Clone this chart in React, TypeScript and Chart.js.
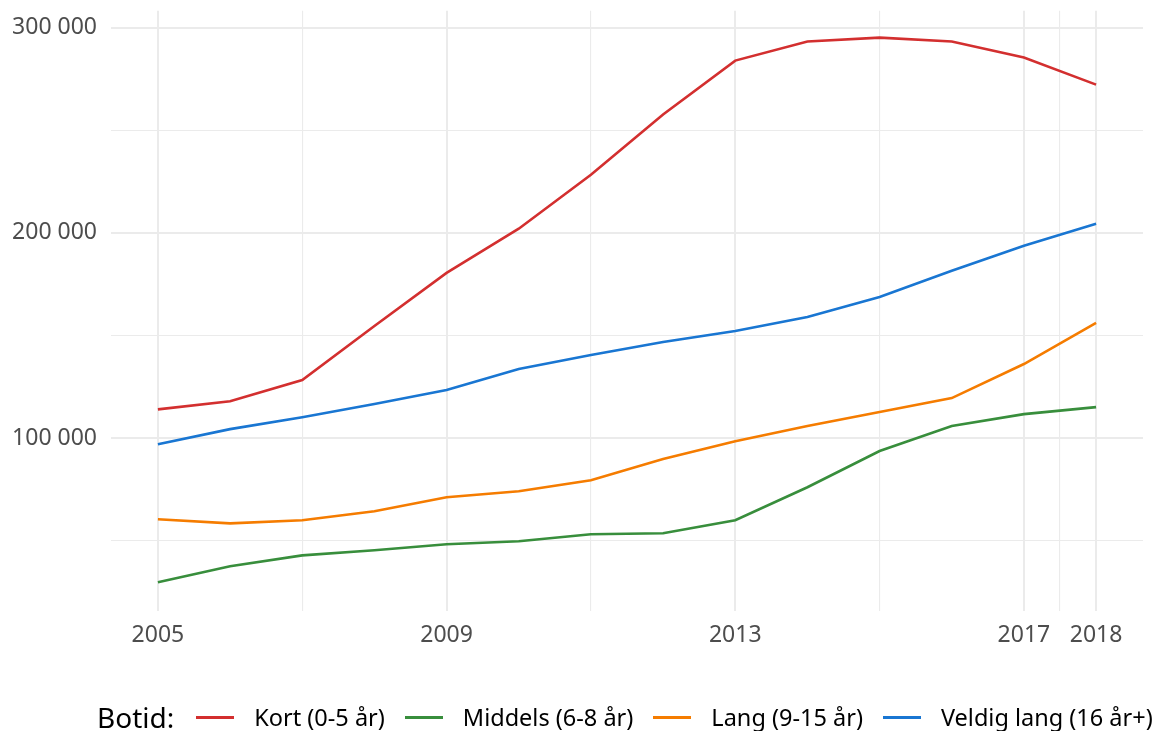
import React, { useEffect, useRef } from "react";
import { Chart, registerables } from "chart.js";

Chart.register(...registerables);

const years = [2005, 2006, 2007, 2008, 2009, 2010, 2011, 2012, 2013, 2014, 2015, 2016, 2017, 2018];
const kort = [114000, 118000, 128300, 154600, 180500, 202000, 228300, 257600, 283900, 293200, 295100, 293200, 285400, 272200];
const middels = [29800, 37600, 42900, 45400, 48300, 49800, 53200, 53700, 60000, 76100, 93700, 105900, 111700, 115100];
const lang = [60500, 58500, 60000, 64400, 71200, 74100, 79500, 89800, 98500, 105900, 112700, 119500, 136100, 156100];
const veldigLang = [97000, 104400, 110200, 116600, 123400, 133700, 140500, 146800, 152200, 159000, 168800, 181500, 193700, 204400];

const seriesNames = ["Kort (0-5 år)", "Middels (6-8 år)", "Lang (9-15 år)", "Veldig lang (16 år+)"];
const seriesColors = ["#D32F2F", "#388E3C", "#F57C00", "#1976D2"];
const legendTitle = "Botid:";

const xTickValues = [2005, 2007, 2009, 2011, 2013, 2015, 2017, 2017.5, 2018];
const xLabelled = [2005, 2009, 2013, 2017, 2018];
const yTickValues = [50000, 100000, 150000, 200000, 250000, 300000];
const yLabelled = [100000, 200000, 300000];

const FONT = "'Noto Sans', 'DejaVu Sans', sans-serif";

function fmt(v: number): string {
  return `${Math.round(v / 1000)} 000`;
}

export default function App() {
  const ref = useRef<HTMLCanvasElement | null>(null);

  useEffect(() => {
    document.body.style.margin = "0";
    const all = [kort, middels, lang, veldigLang];
    const chart = new Chart(ref.current as HTMLCanvasElement, {
      type: "line",
      data: {
        datasets: all.map((arr, i) => ({
          label: seriesNames[i],
          data: years.map((y, j) => ({ x: y, y: arr[j] })),
          borderColor: seriesColors[i],
          backgroundColor: seriesColors[i],
          borderWidth: 2.6,
          pointRadius: 0,
          tension: 0,
          fill: false,
        })),
      },
      options: {
        animation: false,
        responsive: false,
        maintainAspectRatio: false,
        layout: { padding: { top: 10.7, right: 20, left: 0, bottom: 0 } },
        plugins: { legend: { display: false }, tooltip: { enabled: false } },
        scales: {
          x: {
            type: "linear",
            min: 2004.35,
            max: 2018.65,
            afterBuildTicks: (scale: any) => {
              scale.ticks = xTickValues.map((v) => ({ value: v }));
            },
            afterFit: (scale: any) => {
              scale.height = 120;
              scale.paddingLeft = 0;
              scale.paddingRight = 0;
            },
            border: { display: false },
            grid: {
              drawTicks: false,
              color: "#EBEBEB",
              lineWidth: (ctx: any) => (xLabelled.includes(ctx.tick?.value) ? 2 : 1.1),
            },
            ticks: {
              autoSkip: false,
              maxRotation: 0,
              padding: 11,
              color: "#4D4D4D",
              font: { family: FONT, size: 23 },
              callback: (v: any) => (xLabelled.includes(Number(v)) ? String(v) : ""),
            },
          },
          y: {
            type: "linear",
            min: 15800,
            max: 308200,
            afterBuildTicks: (scale: any) => {
              scale.ticks = yTickValues.map((v) => ({ value: v }));
            },
            afterFit: (scale: any) => {
              scale.width = 111;
              scale.paddingTop = 0;
              scale.paddingBottom = 0;
            },
            border: { display: false },
            grid: {
              drawTicks: false,
              color: "#EBEBEB",
              lineWidth: (ctx: any) => (yLabelled.includes(ctx.tick?.value) ? 2 : 1.1),
            },
            ticks: {
              autoSkip: false,
              padding: 14,
              color: "#4D4D4D",
              font: { family: FONT, size: 23 },
              callback: (v: any) => (yLabelled.includes(Number(v)) ? fmt(Number(v)) : ""),
            },
          },
        },
      },
    });
    return () => chart.destroy();
  }, []);

  return (
    <div style={{ position: "relative", width: 1163, height: 731, background: "#fff", overflow: "hidden" }}>
      <canvas ref={ref} width={1163} height={731} style={{ position: "absolute", left: 0, top: 0 }} />
      <div
        style={{
          position: "absolute",
          left: 97,
          top: 699,
          height: 36,
          display: "flex",
          alignItems: "center",
          fontFamily: FONT,
          whiteSpace: "nowrap",
        }}
      >
        <span style={{ fontSize: 28, color: "#000", marginRight: 22 }}>{legendTitle}</span>
        {seriesNames.map((n, i) => (
          <span key={n} style={{ display: "flex", alignItems: "center", marginRight: 20 }}>
            <span style={{ display: "inline-block", width: 38, height: 3, background: seriesColors[i], marginRight: 20 }} />
            <span style={{ fontSize: 23.5, color: "#000" }}>{n}</span>
          </span>
        ))}
      </div>
    </div>
  );
}
